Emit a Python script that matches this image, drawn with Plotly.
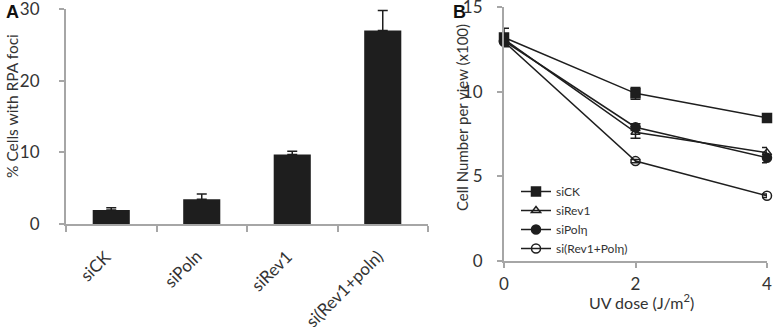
import plotly.graph_objects as go

# Panel A data
categories_a = ["siCK", "siPoln", "siRev1", "si(Rev1+poln)"]
rpa_foci = [1.95, 3.45, 9.7, 27.0]
rpa_err = [0.3, 0.75, 0.45, 2.8]

# Panel B data
uv_dose = [0, 2, 4]
series_names = ["siCK", "siRev1", "siPolη", "si(Rev1+Polη)"]
cell_ck = [13.2, 9.9, 8.45]
cell_ck_err = [0.55, 0.35, 0.15]
cell_rev1 = [13.1, 7.6, 6.4]
cell_rev1_err = [0.3, 0.35, 0.3]
cell_poln = [13.0, 7.9, 6.1]
cell_poln_err = [0.3, 0.2, 0.3]
cell_both = [12.95, 5.9, 3.85]
cell_both_err = [0.2, 0.1, 0.1]

FONT = "Lato"
AXC = "#a6a6a6"
TXT = "#333333"
INK = "#1e1e1e"

W, H = 777, 327


def px(x):
    return x / W


def py(y):
    return 1 - y / H


cat_pos = list(range(len(categories_a)))

fig = go.Figure()

fig.add_trace(go.Bar(
    x=cat_pos, y=rpa_foci, width=0.41,
    marker=dict(color=INK, line=dict(width=0)),
    error_y=dict(type="data", array=rpa_err, arrayminus=[0]*4, symmetric=False,
                 color=INK, thickness=1.5, width=5),
    showlegend=False, xaxis="x", yaxis="y",
))

symbols = ["square", "triangle-up-open", "circle", "circle-open"]
ys = [cell_ck, cell_rev1, cell_poln, cell_both]
errs = [cell_ck_err, cell_rev1_err, cell_poln_err, cell_both_err]
for name, sym, yv, ev in zip(series_names, symbols, ys, errs):
    fig.add_trace(go.Scatter(
        x=uv_dose, y=yv, name=name, mode="lines+markers",
        line=dict(color=INK, width=1.5),
        marker=dict(symbol=sym, size=9 if "triangle" not in sym else 8,
                    color=INK, line=dict(color=INK, width=1.5)),
        error_y=dict(type="data", array=ev, color=INK, thickness=1.5, width=5),
        cliponaxis=False, xaxis="x2", yaxis="y2",
    ))

axis_common = dict(showline=True, linecolor=AXC, linewidth=2,
                   tickcolor=AXC, tickwidth=1.5, showgrid=False, zeroline=False,
                   ticklabeloverflow="allow", automargin=False)

annotations = [
    dict(text="<b>A</b>", x=px(4), y=py(12), xref="paper", yref="paper",
         xanchor="left", yanchor="middle", showarrow=False,
         font=dict(family="Arial", size=18, color="#111111")),
    dict(text="<b>B</b>", x=px(451), y=py(12), xref="paper", yref="paper",
         xanchor="left", yanchor="middle", showarrow=False,
         font=dict(family="Arial", size=18, color="#111111")),
    # axis titles
    dict(text="% Cells with RPA foci", x=px(12), y=py(106), xref="paper", yref="paper",
         xanchor="center", yanchor="middle", textangle=-90, showarrow=False,
         font=dict(family=FONT, size=15.5, color=TXT)),
    dict(text="Cell Number per view (x100)", x=px(462), y=py(118), xref="paper", yref="paper",
         xanchor="center", yanchor="middle", textangle=-90, showarrow=False,
         font=dict(family=FONT, size=15, color=TXT)),
    dict(text="UV dose (J/m<sup>2</sup>)", x=px(641), y=py(301), xref="paper", yref="paper",
         xanchor="center", yanchor="middle", showarrow=False,
         font=dict(family=FONT, size=16, color=TXT)),
]
for i, lab in zip(cat_pos, categories_a):
    annotations.append(dict(
        text=lab, x=i, y=py(243), xref="x", yref="paper",
        xanchor="right", yanchor="top", xshift=7, textangle=-45,
        showarrow=False, font=dict(family=FONT, size=17, color=TXT),
    ))

fig.update_layout(
    template="none",
    width=W, height=H, autosize=False,
    margin=dict(l=0, r=0, t=0, b=0, pad=0),
    paper_bgcolor="white", plot_bgcolor="white",
    font=dict(family=FONT, color=TXT, size=16),
    xaxis=dict(domain=[px(66), px(428)], anchor="y", range=[-0.5, 3.5],
               tickmode="array", tickvals=cat_pos, ticktext=categories_a,
               showticklabels=False, ticks="",
               minor=dict(ticks="outside", tick0=0.5, dtick=1, ticklen=6,
                          tickcolor=AXC, tickwidth=1.5),
               **axis_common),
    yaxis=dict(domain=[py(224), py(9)], anchor="x", range=[0, 30],
               tickvals=[0, 10, 20, 30], ticks="outside", ticklen=5,
               tickfont=dict(size=17), ticklabelstandoff=16,
               **axis_common),
    xaxis2=dict(domain=[px(504), px(767)], anchor="y2", range=[0, 4],
                tickvals=[0, 2, 4], ticks="outside", ticklen=5,
                tickfont=dict(size=17), ticklabelstandoff=2,
                **axis_common),
    yaxis2=dict(domain=[py(261), py(7)], anchor="x2", range=[0, 15],
                tickvals=[0, 5, 10, 15], ticks="outside", ticklen=5,
                tickfont=dict(size=17), ticklabelstandoff=11,
                **axis_common),
    legend=dict(x=px(516), y=py(177), xanchor="left", yanchor="top",
                bgcolor="rgba(0,0,0,0)", font=dict(size=12, color=TXT),
                tracegroupgap=0, itemwidth=30),
    annotations=annotations,
)

fig.write_html("out.html", config={"displayModeBar": False},
               post_script="document.body.style.margin='0px';")
